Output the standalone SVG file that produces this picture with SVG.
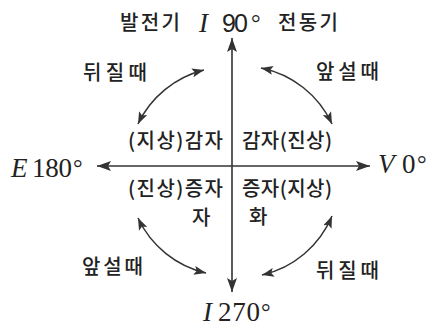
<svg xmlns="http://www.w3.org/2000/svg" width="432" height="327" viewBox="0 0 432 327">
<style>
.ko{font-family:"Noto Sans CJK KR","Noto Sans",sans-serif;font-size:20px;font-weight:500;fill:#222}
.math{font-family:"Liberation Serif",serif;font-size:27px;fill:#222}
.it{font-style:italic}
.ax{stroke:#333;stroke-width:1.6;fill:none}
.arc{stroke:#333;stroke-width:1.5;fill:none}
</style>
<defs>
<marker id="ah" viewBox="0 0 14 10" refX="14" refY="5" markerWidth="14" markerHeight="10" markerUnits="userSpaceOnUse" orient="auto-start-reverse">
<path d="M0,0 L14,5 L0,10 L3,5 Z" fill="#333"/>
</marker>
<marker id="ah2" viewBox="0 0 12 9" refX="12" refY="4.5" markerWidth="12" markerHeight="9" markerUnits="userSpaceOnUse" orient="auto-start-reverse">
<path d="M0,0 L12,4.5 L0,9 L2.5,4.5 Z" fill="#333"/>
</marker>
</defs>
<rect width="432" height="327" fill="#fff"/>
<g id="connectors">
<path class="ax" d="M232,292 L232,38" marker-end="url(#ah)" marker-start="url(#ah)"/>
<path class="ax" d="M97,166 L370,166" marker-end="url(#ah)" marker-start="url(#ah)"/>
<path class="arc" d="M204,70 A100,100 0 0 0 138,124" marker-start="url(#ah2)" marker-end="url(#ah2)"/>
<path class="arc" d="M261,68 A100,100 0 0 1 332,124" marker-start="url(#ah2)" marker-end="url(#ah2)"/>
<path class="arc" d="M138,218 A100,100 0 0 0 206,273" marker-start="url(#ah2)" marker-end="url(#ah2)"/>
<path class="arc" d="M332,216 A100,100 0 0 1 262,275" marker-start="url(#ah2)" marker-end="url(#ah2)"/>
</g>
<g id="top-label">
<text class="math" y="32"><tspan class="it" x="199">I</tspan><tspan x="222" font-family="Liberation Sans, sans-serif" font-size="25" textLength="26">90</tspan><tspan x="251" font-size="24" dy="-1">°</tspan></text>
</g>
<g id="bottom-label">
<text class="math" y="321" font-size="26"><tspan class="it" x="203">I</tspan><tspan x="218" textLength="42">270</tspan><tspan x="261" font-size="24" dy="-1">°</tspan></text>
</g>
<g id="left-label">
<text class="math" y="177"><tspan class="it" x="11">E</tspan><tspan x="32" textLength="40">180</tspan><tspan x="73" font-size="24" dy="-1">°</tspan></text>
</g>
<g id="right-label">
<text class="math" y="173"><tspan class="it" x="378">V</tspan><tspan x="402">0</tspan><tspan x="417" font-size="24" dy="-1">°</tspan></text>
</g>
<g id="generator"><text class="ko" x="120" y="30" textLength="60">발전기</text></g>
<g id="motor"><text class="ko" x="278" y="30" textLength="60">전동기</text></g>
<g id="lag-ul"><text class="ko" x="83" y="80" textLength="64">뒤질때</text></g>
<g id="lead-ur"><text class="ko" x="316" y="79" textLength="63">앞설때</text></g>
<g id="q2-upper"><text class="ko" x="128" y="148" textLength="95">(지상)감자</text></g>
<g id="q1-upper"><text class="ko" x="242" y="148" textLength="90">감자(진상)</text></g>
<g id="q3-upper"><text class="ko" x="128" y="196" textLength="95">(진상)증자</text></g>
<g id="q4-upper"><text class="ko" x="242" y="196" textLength="90">증자(지상)</text></g>
<g id="ja"><text class="ko" x="192" y="225">자</text></g>
<g id="hwa"><text class="ko" x="249" y="224">화</text></g>
<g id="lead-ll"><text class="ko" x="82" y="274" textLength="61">앞설때</text></g>
<g id="lag-lr"><text class="ko" x="316" y="278" textLength="63">뒤질때</text></g>
</svg>
